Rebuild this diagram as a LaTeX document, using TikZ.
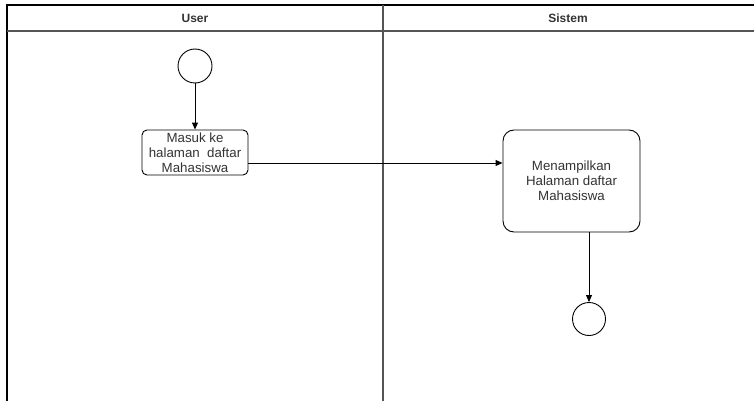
\documentclass[tikz,border=0pt]{standalone}
\usepackage{fontspec}
\setmainfont{Liberation Sans}
\usetikzlibrary{arrows.meta,calc}
\definecolor{txt}{HTML}{333333}
\definecolor{divc}{HTML}{555555}
\tikzset{
  lanehead/.style={font=\bfseries\fontsize{12}{14}\selectfont, text=txt},
  actbox/.style={draw=black, line width=0.9pt, fill=white, align=center, text=txt, font=\fontsize{13.3}{15}\selectfont, inner sep=0pt},
  terminal/.style={draw=black, line width=0.9pt, circle, fill=white, minimum size=34pt, inner sep=0pt},
  flow/.style={-{Triangle[length=7pt,width=6pt]}, line width=0.9pt, black},
}
\begin{document}
\begin{tikzpicture}[x=1pt,y=-1pt]
\useasboundingbox (0,0) rectangle (754,401);
% swimlane frame
\draw[line width=1.1pt, black] (7,401) -- (7,5) -- (754,5);
\draw[line width=1.1pt, divc] (7,31) -- (754,31);
\draw[line width=1.4pt, divc] (383,5) -- (383,401);
\node[lanehead] (hUser) at (195,18) {User};
\node[lanehead] (hSis) at (568,18) {Sistem};
% nodes
\node[terminal] (start) at (195,66) {};
\node[actbox, rounded corners=5pt, minimum width=106pt, minimum height=45pt] (masuk) at (195,152.5) {Masuk ke\\halaman\ \ daftar\\Mahasiswa};
\node[actbox, rounded corners=11pt, minimum width=137pt, minimum height=102pt] (tampil) at (571.5,181) {Menampilkan\\Halaman daftar\\Mahasiswa};
\node[terminal, minimum size=33pt] (end) at (589,319) {};
% connectors
\draw[flow] (start) -- (masuk);
\coordinate (mOut) at ($(masuk.east)+(0,10.5)$);
\draw[flow] (mOut) -- (mOut -| tampil.west);
\coordinate (tOut) at (tampil.south -| end.north);
\draw[flow] (tOut) -- (end.north);
\end{tikzpicture}
\end{document}
